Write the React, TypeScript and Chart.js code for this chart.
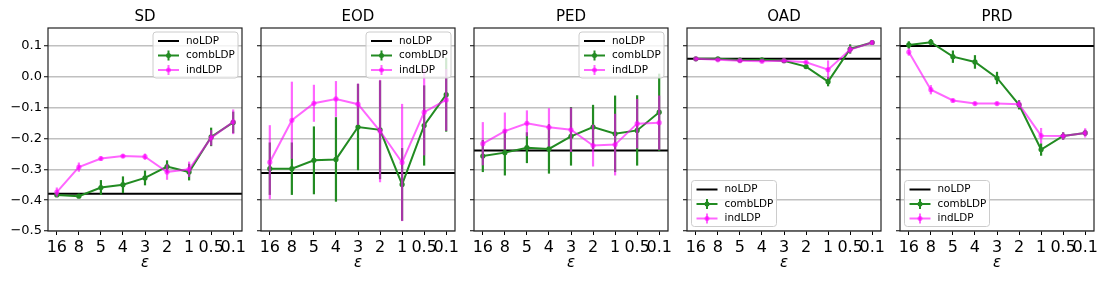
import React, { useEffect, useRef } from 'react';
import { Chart, registerables } from 'chart.js';

Chart.register(...registerables);

// ---------- data ----------
const epsilonLabels = ['16', '8', '5', '4', '3', '2', '1', '0.5', '0.1'];
const metricNames = ['SD', 'EOD', 'PED', 'OAD', 'PRD'];
const yTickValues = [-0.5, -0.4, -0.3, -0.2, -0.1, 0.0, 0.1];
const noLDP = [-0.379, -0.312, -0.239, 0.058, 0.1];
const legendLocs = ['upper right', 'upper right', 'upper right', 'lower left', 'lower left'];

const sdComb = [-0.383, -0.387, -0.359, -0.35, -0.328, -0.291, -0.309, -0.195, -0.148];
const sdCombErr = [0.006, 0.006, 0.024, 0.027, 0.024, 0.02, 0.027, 0.03, 0.035];
const sdInd = [-0.374, -0.293, -0.265, -0.257, -0.259, -0.309, -0.3, -0.198, -0.146];
const sdIndErr = [0.015, 0.015, 0.007, 0.006, 0.01, 0.025, 0.025, 0.025, 0.04];

const eodComb = [-0.298, -0.298, -0.271, -0.268, -0.163, -0.172, -0.349, -0.158, -0.058];
const eodCombErr = [0.085, 0.085, 0.11, 0.137, 0.14, 0.16, 0.118, 0.13, 0.12];
const eodInd = [-0.277, -0.141, -0.086, -0.072, -0.089, -0.176, -0.278, -0.115, -0.075];
const eodIndErr = [0.12, 0.125, 0.06, 0.058, 0.067, 0.166, 0.19, 0.14, 0.1];

const pedComb = [-0.257, -0.246, -0.23, -0.234, -0.193, -0.163, -0.185, -0.174, -0.115];
const pedCombErr = [0.052, 0.074, 0.05, 0.08, 0.095, 0.072, 0.124, 0.114, 0.125];
const pedInd = [-0.217, -0.176, -0.151, -0.164, -0.172, -0.223, -0.22, -0.152, -0.149];
const pedIndErr = [0.07, 0.06, 0.042, 0.062, 0.072, 0.068, 0.1, 0.08, 0.088];

const oadComb = [0.058, 0.058, 0.054, 0.055, 0.052, 0.033, -0.016, 0.09, 0.111];
const oadCombErr = [0.003, 0.003, 0.003, 0.003, 0.004, 0.006, 0.015, 0.015, 0.007];
const oadInd = [0.058, 0.055, 0.052, 0.05, 0.052, 0.047, 0.023, 0.088, 0.111];
const oadIndErr = [0.003, 0.003, 0.003, 0.003, 0.003, 0.005, 0.03, 0.012, 0.008];

const prdComb = [0.103, 0.112, 0.065, 0.048, -0.004, -0.091, -0.236, -0.192, -0.182];
const prdCombErr = [0.012, 0.01, 0.02, 0.022, 0.02, 0.015, 0.02, 0.012, 0.01];
const prdInd = [0.08, -0.042, -0.077, -0.087, -0.087, -0.089, -0.191, -0.192, -0.182];
const prdIndErr = [0.012, 0.015, 0.006, 0.006, 0.006, 0.012, 0.025, 0.012, 0.015];

const combSeries = [sdComb, eodComb, pedComb, oadComb, prdComb];
const combErrs = [sdCombErr, eodCombErr, pedCombErr, oadCombErr, prdCombErr];
const indSeries = [sdInd, eodInd, pedInd, oadInd, prdInd];
const indErrs = [sdIndErr, eodIndErr, pedIndErr, oadIndErr, prdIndErr];

// ---------- styling / layout ----------
const FONT = "'DejaVu Sans', sans-serif";
const GREEN = 'rgb(34,139,34)';
const MAGENTA = 'rgba(255,0,255,0.6)';
const PANEL_LEFTS = [48, 261, 474, 687, 900];
const AXIS_W = 48;
const CANVAS_W = 252;
const H = 284;
const TOP = 28;
const BOTTOM = 231;

const fmtY = (v: number) => {
  const s = Math.abs(v).toFixed(1);
  return v < -1e-9 ? '\u2212' + s : s;
};

const panelPlugin = {
  id: 'panel',
  beforeDatasetsDraw(chart: any, _args: any, opts: any) {
    const { ctx, chartArea } = chart;
    const y = chart.scales.y.getPixelForValue(opts.noLDP);
    ctx.save();
    ctx.strokeStyle = '#000';
    ctx.lineWidth = 2;
    ctx.beginPath();
    ctx.moveTo(chartArea.left, y);
    ctx.lineTo(chartArea.right, y);
    ctx.stroke();
    ctx.restore();
  },
  beforeDatasetDraw(chart: any, args: any) {
    const ds = chart.data.datasets[args.index];
    const errs: number[] = ds.errs;
    if (!errs) return;
    const { ctx } = chart;
    const xs = chart.scales.x;
    const ys = chart.scales.y;
    ctx.save();
    ctx.strokeStyle = ds.borderColor;
    ctx.lineWidth = 2.2;
    ds.data.forEach((p: any, i: number) => {
      const x = xs.getPixelForValue(p.x);
      ctx.beginPath();
      ctx.moveTo(x, ys.getPixelForValue(p.y - errs[i]));
      ctx.lineTo(x, ys.getPixelForValue(p.y + errs[i]));
      ctx.stroke();
    });
    ctx.restore();
  },
  afterDraw(chart: any, _args: any, opts: any) {
    const { ctx, chartArea } = chart;
    const { left, right, top, bottom } = chartArea;
    ctx.save();
    // frame
    ctx.strokeStyle = '#222';
    ctx.lineWidth = 1.2;
    ctx.strokeRect(left, top, right - left, bottom - top);
    // title
    ctx.fillStyle = '#000';
    ctx.font = `15px ${FONT}`;
    ctx.textAlign = 'center';
    ctx.textBaseline = 'alphabetic';
    ctx.fillText(opts.title, (left + right) / 2, 21);
    // x label
    ctx.font = `italic 15px ${FONT}`;
    ctx.fillText('\u03b5', (left + right) / 2, 267);
    // legend
    const bw = 85;
    const bh = 46;
    let bx: number, by: number;
    if (opts.legendLoc === 'upper right') {
      bx = right - 4 - bw;
      by = top + 4;
    } else {
      bx = left + 4.5;
      by = bottom - 4.5 - bh;
    }
    ctx.beginPath();
    ctx.roundRect(bx, by, bw, bh, 3);
    ctx.fillStyle = 'rgba(255,255,255,0.8)';
    ctx.fill();
    ctx.strokeStyle = '#cccccc';
    ctx.lineWidth = 1;
    ctx.stroke();
    const items = [
      { label: 'noLDP', color: '#000', marker: false },
      { label: 'combLDP', color: GREEN, marker: true },
      { label: 'indLDP', color: MAGENTA, marker: true },
    ];
    items.forEach((it, k) => {
      const ry = by + 9 + k * 14.5;
      const x0 = bx + 5;
      const x1 = bx + 26;
      const xm = (x0 + x1) / 2;
      ctx.strokeStyle = it.color;
      ctx.lineWidth = 2;
      ctx.beginPath();
      ctx.moveTo(x0, ry);
      ctx.lineTo(x1, ry);
      ctx.stroke();
      if (it.marker) {
        ctx.beginPath();
        ctx.moveTo(xm, ry - 5);
        ctx.lineTo(xm, ry + 5);
        ctx.stroke();
        ctx.fillStyle = it.color;
        ctx.beginPath();
        ctx.arc(xm, ry, 2.5, 0, Math.PI * 2);
        ctx.fill();
      }
      ctx.fillStyle = '#000';
      ctx.font = `10.4px ${FONT}`;
      ctx.textAlign = 'left';
      ctx.textBaseline = 'middle';
      ctx.fillText(it.label, bx + 33, ry);
    });
    ctx.restore();
  },
};

function Panel({ idx }: { idx: number }) {
  const ref = useRef<HTMLCanvasElement | null>(null);
  useEffect(() => {
    if (!ref.current) return;
    const mk = (arr: number[]) => arr.map((v, i) => ({ x: i, y: v }));
    const chart = new Chart(ref.current, {
      type: 'line',
      data: {
        datasets: [
          {
            label: 'combLDP',
            data: mk(combSeries[idx]),
            errs: combErrs[idx],
            borderColor: GREEN,
            backgroundColor: GREEN,
            pointBackgroundColor: GREEN,
            pointBorderColor: GREEN,
            pointRadius: 2.6,
            pointBorderWidth: 0,
            borderWidth: 2,
            order: 2,
          } as any,
          {
            label: 'indLDP',
            data: mk(indSeries[idx]),
            errs: indErrs[idx],
            borderColor: MAGENTA,
            backgroundColor: MAGENTA,
            pointBackgroundColor: MAGENTA,
            pointBorderColor: MAGENTA,
            pointRadius: 2.6,
            pointBorderWidth: 0,
            borderWidth: 2,
            order: 1,
          } as any,
        ],
      },
      options: {
        animation: false,
        responsive: false,
        devicePixelRatio: 1,
        layout: { padding: { top: TOP, right: CANVAS_W - AXIS_W - 194, left: 0, bottom: 0 } },
        plugins: {
          legend: { display: false },
          tooltip: { enabled: false },
          panel: { title: metricNames[idx], noLDP: noLDP[idx], legendLoc: legendLocs[idx] },
        } as any,
        scales: {
          x: {
            type: 'linear',
            bounds: 'data',
            min: -0.4,
            max: 8.4,
            afterFit: (s: any) => {
              s.height = H - BOTTOM;
            },
            afterBuildTicks: (s: any) => {
              s.ticks = epsilonLabels.map((_, i) => ({ value: i }));
            },
            ticks: {
              autoSkip: false,
              maxRotation: 0,
              minRotation: 0,
              padding: 3.5,
              color: '#000',
              font: { family: FONT, size: 16 },
              callback: (v: any) => epsilonLabels[Math.round(v)],
            },
            grid: { drawOnChartArea: false, drawTicks: true, tickLength: 4, tickColor: '#000', tickWidth: 1 },
            border: { display: false },
          },
          y: {
            type: 'linear',
            bounds: 'data',
            min: -0.5,
            max: 0.158,
            afterFit: (s: any) => {
              s.width = AXIS_W;
            },
            afterBuildTicks: (s: any) => {
              s.ticks = yTickValues.map((v) => ({ value: v }));
            },
            ticks: {
              padding: 2,
              color: '#000',
              font: { family: FONT, size: 13 },
              callback: (v: any) => (idx === 0 ? fmtY(v) : ''),
            },
            grid: {
              drawOnChartArea: true,
              color: '#c0c0c0',
              lineWidth: 1.5,
              drawTicks: true,
              tickLength: 4,
              tickColor: '#000',
              tickWidth: 1,
            },
            border: { display: false },
          },
        },
      } as any,
      plugins: [panelPlugin as any],
    });
    return () => chart.destroy();
  }, [idx]);
  return (
    <canvas
      ref={ref}
      width={CANVAS_W}
      height={H}
      style={{ position: 'absolute', left: PANEL_LEFTS[idx] - AXIS_W, top: 0, width: CANVAS_W, height: H }}
    />
  );
}

export default function App() {
  return (
    <div style={{ position: 'absolute', left: 0, top: 0, width: 1107, height: H, background: '#fff' }}>
      {metricNames.map((_, i) => (
        <Panel key={i} idx={i} />
      ))}
    </div>
  );
}
